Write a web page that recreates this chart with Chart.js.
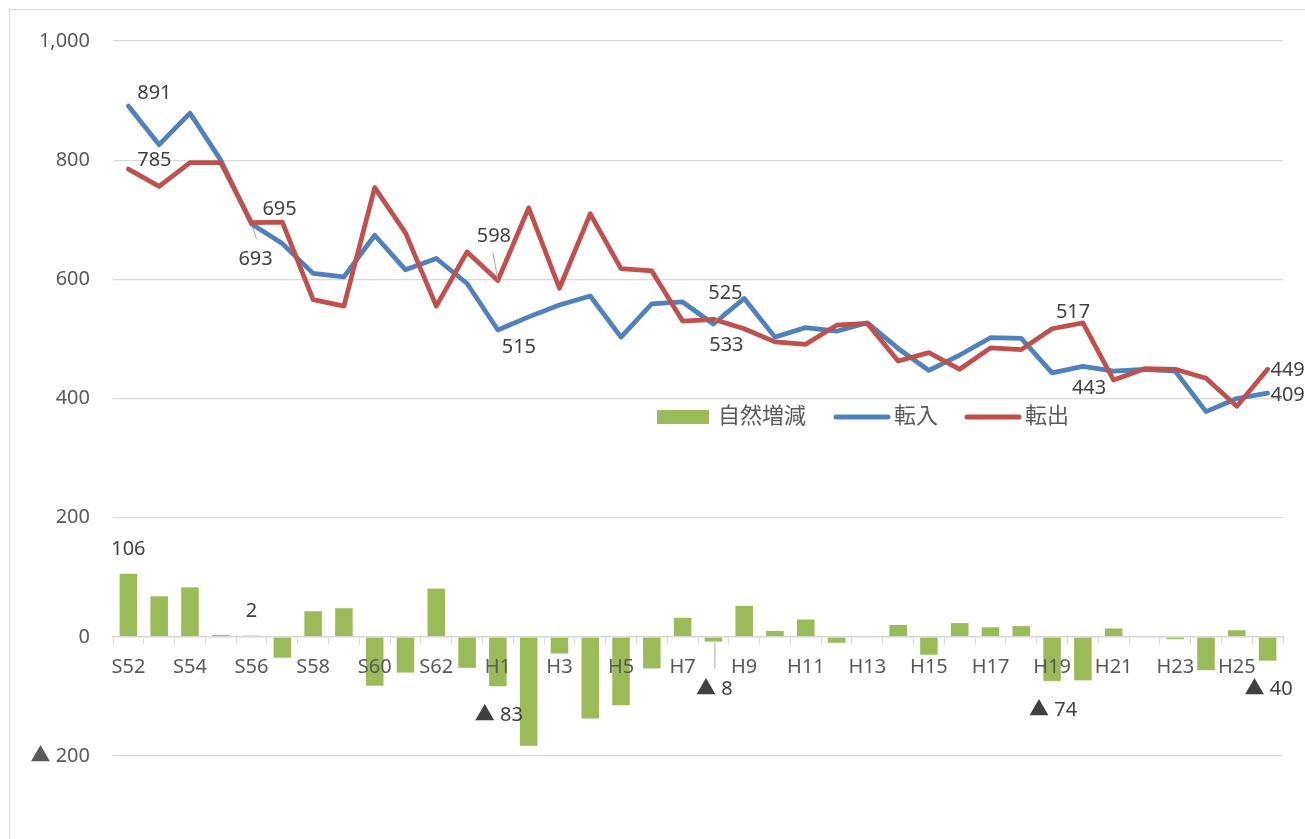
<!DOCTYPE html>
<html lang="ja">
<head>
<meta charset="UTF-8">
<title>自然増減・転入・転出の推移</title>
<script src="https://cdn.jsdelivr.net/npm/chart.js@4"></script>
<style>
  html, body { margin: 0; padding: 0; background: #fff; }
  #wrap { width: 1305px; height: 839px; }
</style>
</head>
<body>
<div id="wrap"><canvas id="popChart" width="1305" height="839"></canvas></div>
<script>
// 年度（昭和52年〜平成26年）
const years = [
  'S52', 'S53', 'S54', 'S55', 'S56', 'S57', 'S58', 'S59', 'S60', 'S61', 'S62', 'S63',
  'H1', 'H2', 'H3', 'H4', 'H5', 'H6', 'H7', 'H8', 'H9', 'H10',
  'H11', 'H12', 'H13', 'H14', 'H15', 'H16', 'H17', 'H18', 'H19', 'H20',
  'H21', 'H22', 'H23', 'H24', 'H25', 'H26'
];

// 自然増減（出生－死亡）
const natural = [
  106, 68, 83, 3, 2, -35, 43, 48, -82, -60, 81, -52,
  -83, -183, -28, -137, -115, -53, 32, -8, 52, 10,
  29, -10, 1, 20, -30, 23, 16, 18, -74, -73,
  14, 0, -4, -56, 11, -40
];

// 転入
const tennyu = [
  891, 826, 879, 800, 693, 660, 610, 604, 674, 616, 635, 593,
  515, 537, 557, 572, 503, 559, 562, 525, 568, 503,
  519, 513, 527, 484, 447, 473, 502, 501, 443, 454,
  446, 449, 446, 378, 400, 409
];

// 転出
const tenshutsu = [
  785, 756, 796, 796, 695, 696, 566, 555, 754, 678, 555, 646,
  598, 720, 585, 710, 618, 614, 530, 533, 517, 495,
  491, 523, 526, 463, 477, 449, 485, 482, 517, 527,
  431, 450, 449, 434, 387, 449
];

const FONT = '"Noto Sans", "Noto Sans CJK JP", sans-serif';
const TEXT_GRAY = '#595959';
const LABEL_GRAY = '#404040';

// マイナスは▲表記
function fmt(v) {
  return v < 0 ? '▲ ' + Math.abs(v) : v.toLocaleString('en-US');
}

// 値ラベルを付ける点 (ds: 0=自然増減, 1=転入, 2=転出)
const labelSpots = [
  { ds: 1, year: 'S52', dx: 26, dy: -13 },
  { ds: 2, year: 'S52', dx: 26, dy: -9 },
  { ds: 1, year: 'S56', dx: 4, dy: 35, lead: [1, 3, 5, 15] },
  { ds: 2, year: 'S56', dx: 28, dy: -13 },
  { ds: 2, year: 'H1', dx: -4, dy: -44, lead: [0, -1, -5, -28] },
  { ds: 1, year: 'H1', dx: 21, dy: 17 },
  { ds: 1, year: 'H8', dx: 12, dy: -31, lead: [1, -2, 12, -14] },
  { ds: 2, year: 'H8', dx: 13, dy: 26 },
  { ds: 2, year: 'H19', dx: 21, dy: -16 },
  { ds: 1, year: 'H19', dx: 37, dy: 15 },
  { ds: 2, year: 'H26', dx: 20, dy: 1 },
  { ds: 1, year: 'H26', dx: 20, dy: 2 },
  { ds: 0, year: 'S52', dx: 0, dy: -24 },
  { ds: 0, year: 'S56', dx: 0, dy: -24 },
  { ds: 0, year: 'H1', dx: 1, dy: 29 },
  { ds: 0, year: 'H8', dx: 1, dy: 48, lead: [1.5, 1, 1.5, 27] },
  { ds: 0, year: 'H19', dx: 1, dy: 29 },
  { ds: 0, year: 'H26', dx: 1, dy: 29 }
];

const framePlugin = {
  id: 'frame',
  beforeDraw(chart) {
    const ctx = chart.ctx;
    ctx.save();
    ctx.fillStyle = '#fff';
    ctx.fillRect(0, 0, chart.width, chart.height);
    ctx.strokeStyle = '#d9d9d9';
    ctx.lineWidth = 1;
    ctx.strokeRect(9.5, 9.5, chart.width + 20, chart.height + 20);
    ctx.restore();
  }
};

const valueLabelPlugin = {
  id: 'valueLabels',
  afterDraw(chart) {
    const ctx = chart.ctx;
    ctx.save();
    ctx.font = '20px ' + FONT;
    ctx.fillStyle = LABEL_GRAY;
    ctx.textAlign = 'center';
    ctx.textBaseline = 'middle';
    labelSpots.forEach(s => {
      const idx = years.indexOf(s.year);
      const el = chart.getDatasetMeta(s.ds).data[idx];
      const v = chart.data.datasets[s.ds].data[idx];
      const px = el.x, py = el.y;
      if (s.lead) {
        ctx.strokeStyle = '#a6a6a6';
        ctx.lineWidth = 1;
        ctx.beginPath();
        ctx.moveTo(px + s.lead[0], py + s.lead[1]);
        ctx.lineTo(px + s.lead[2], py + s.lead[3]);
        ctx.stroke();
      }
      ctx.fillText(fmt(v), px + s.dx, py + s.dy);
    });
    ctx.restore();
  }
};

// 凡例はプロット内に横並びで描く
const innerLegendPlugin = {
  id: 'innerLegend',
  afterDraw(chart) {
    const ctx = chart.ctx;
    const ds = chart.data.datasets;
    const y = 417;
    let x = 657;
    ctx.save();
    ctx.font = '22px ' + FONT;
    ctx.textBaseline = 'middle';
    ctx.textAlign = 'left';

    ctx.fillStyle = ds[0].backgroundColor;
    ctx.fillRect(x, y - 7, 52, 14);
    x += 61;
    ctx.fillStyle = TEXT_GRAY;
    ctx.fillText(ds[0].label, x, y);
    x += ctx.measureText(ds[0].label).width + 28;

    [1, 2].forEach(k => {
      ctx.strokeStyle = ds[k].borderColor;
      ctx.lineWidth = 5;
      ctx.lineCap = 'round';
      ctx.beginPath();
      ctx.moveTo(x + 2, y);
      ctx.lineTo(x + 54, y);
      ctx.stroke();
      x += 60;
      ctx.fillStyle = TEXT_GRAY;
      ctx.fillText(ds[k].label, x, y);
      x += ctx.measureText(ds[k].label).width + 27;
    });
    ctx.restore();
  }
};

new Chart(document.getElementById('popChart'), {
  type: 'bar',
  data: {
    labels: years,
    datasets: [
      {
        type: 'bar',
        label: '自然増減',
        data: natural,
        backgroundColor: '#9bbb59',
        barPercentage: 0.57,
        categoryPercentage: 1,
        order: 2
      },
      {
        type: 'line',
        label: '転入',
        data: tennyu,
        borderColor: '#4f81bd',
        backgroundColor: '#4f81bd',
        borderWidth: 4.75,
        borderJoinStyle: 'round',
        borderCapStyle: 'round',
        pointRadius: 0,
        tension: 0,
        order: 1
      },
      {
        type: 'line',
        label: '転出',
        data: tenshutsu,
        borderColor: '#c0504d',
        backgroundColor: '#c0504d',
        borderWidth: 4.75,
        borderJoinStyle: 'round',
        borderCapStyle: 'round',
        pointRadius: 0,
        tension: 0,
        order: 0
      }
    ]
  },
  options: {
    responsive: false,
    animation: false,
    layout: { padding: { top: 41, right: 22, bottom: 83, left: 0 } },
    plugins: {
      legend: { display: false },
      tooltip: { enabled: false }
    },
    scales: {
      x: {
        position: { y: 0 },
        grid: {
          drawOnChartArea: false,
          drawTicks: true,
          tickLength: 7,
          color: '#d9d9d9',
          offset: true,
          z: 1
        },
        border: { display: true, color: '#d9d9d9', width: 1.5, z: 1 },
        ticks: {
          z: 1,
          autoSkip: false,
          maxRotation: 0,
          padding: 11,
          color: TEXT_GRAY,
          font: { family: FONT, size: 20 },
          callback(v, i) { return i % 2 === 0 ? this.getLabelForValue(v) : ''; }
        }
      },
      y: {
        min: -200,
        max: 1000,
        afterFit(scale) { scale.width = 113; },
        grid: { color: '#d9d9d9', lineWidth: 1.3, drawTicks: false },
        border: { display: false },
        ticks: {
          stepSize: 200,
          padding: 23,
          color: TEXT_GRAY,
          font: { family: FONT, size: 20 },
          callback: v => fmt(v)
        }
      }
    }
  },
  plugins: [framePlugin, valueLabelPlugin, innerLegendPlugin]
});
</script>
</body>
</html>
